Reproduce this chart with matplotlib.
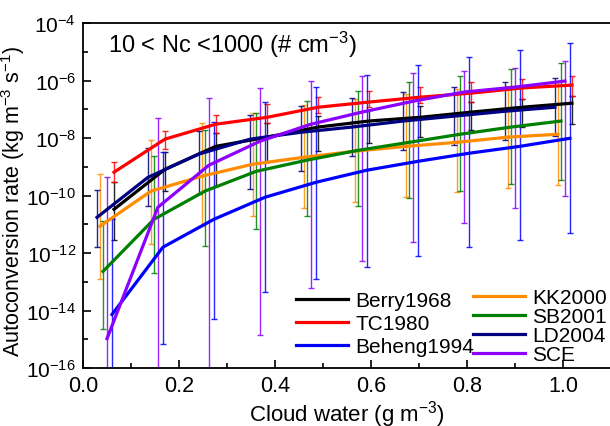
import numpy as np
import matplotlib
matplotlib.use("Agg")
import matplotlib.pyplot as plt
from matplotlib.ticker import FixedLocator, FuncFormatter

plt.rcParams['font.family'] = ['Liberation Sans', 'DejaVu Sans']
plt.rcParams['mathtext.fontset'] = 'custom'
plt.rcParams['mathtext.rm'] = 'Liberation Sans'
plt.rcParams['mathtext.it'] = 'Liberation Sans:italic'
plt.rcParams['mathtext.default'] = 'regular'

# cloud water bin centres (g m-3)
cw = [0.05, 0.156, 0.262, 0.369, 0.475, 0.581, 0.688, 0.794, 0.90, 1.004]

# log10 of autoconversion rate: centre, upper end, lower end of error bar
# (-20 = lower end falls below the plotted range)
berry = [-10.48, -9.09, -8.29, -7.97, -7.62, -7.41, -7.28, -7.10, -6.93, -6.79]
berry_hi = [-9.54, -8.49, -7.83, -7.48, -7.24, -7.03, -6.89, -6.75, -6.65, -6.54]
berry_lo = [-11.56, -9.85, -9.68, -8.84, -8.46, -8.18, -7.97, -7.73, -7.62, -7.52]

tc = [-9.19, -8.04, -7.52, -7.28, -6.93, -6.75, -6.58, -6.44, -6.26, -6.16]
tc_hi = [-8.84, -7.76, -7.21, -6.82, -6.58, -6.37, -6.23, -6.06, -5.95, -5.85]
tc_lo = [-9.54, -8.39, -7.83, -7.48, -7.14, -6.93, -6.79, -6.75, -6.65, -6.54]

beheng = [-14.14, -11.80, -10.83, -10.06, -9.54, -9.12, -8.81, -8.53, -8.29, -8.01]
beheng_hi = [-10.83, -8.49, -7.45, -6.75, -6.23, -5.81, -5.46, -5.18, -4.94, -4.70]
beheng_lo = [-20, -15.15, -14.31, -13.37, -12.89, -12.47, -12.12, -11.80, -11.56, -11.32]

kk = [-11.07, -9.85, -9.33, -8.91, -8.67, -8.46, -8.29, -8.15, -7.97, -7.87]
kk_hi = [-9.26, -8.08, -7.48, -7.14, -6.86, -6.65, -6.47, -6.30, -6.20, -6.06]
kk_lo = [-12.89, -11.70, -11.07, -10.72, -10.45, -10.24, -10.06, -9.89, -9.75, -9.64]

sb = [-12.64, -10.83, -9.85, -9.16, -8.77, -8.43, -8.15, -7.87, -7.62, -7.41]
sb_hi = [-10.90, -8.63, -7.73, -7.14, -6.72, -6.37, -6.06, -5.85, -5.60, -5.39]
sb_lo = [-14.66, -12.68, -11.77, -11.18, -10.72, -10.38, -10.10, -9.85, -9.61, -9.47]

ld = [-10.76, -9.37, -8.56, -8.04, -7.80, -7.62, -7.41, -7.24, -7.07, -6.93]
ld_hi = [-9.82, -8.36, -7.76, -7.21, -6.89, -6.61, -6.40, -6.23, -6.06, -5.92]
ld_lo = [-11.80, -10.38, -9.96, -9.78, -9.16, -8.63, -8.43, -8.25, -8.08, -7.94]

sce = [-14.98, -10.41, -8.95, -8.11, -7.52, -7.10, -6.72, -6.40, -6.23, -6.02]
sce_hi = [-9.37, -7.31, -6.61, -6.26, -6.02, -5.85, -5.74, -5.67, -5.57, -5.32]
sce_lo = [-20, -20, -20, -14.84, -13.23, -12.29, -11.60, -10.97, -10.45, -10.03]

# name, data, colour, sideways shift of the error bars
series = [
    ("Berry1968", berry, berry_hi, berry_lo, "black", 0.0146),
    ("TC1980", tc, tc_hi, tc_lo, "#ff0000", 0.0146),
    ("Beheng1994", beheng, beheng_hi, beheng_lo, "#0000ff", 0.0104),
    ("KK2000", kk, kk_hi, kk_lo, "#ff8c00", -0.0146),
    ("SB2001", sb, sb_hi, sb_lo, "#008000", -0.0083),
    ("LD2004", ld, ld_hi, ld_lo, "#000080", -0.0208),
    ("SCE", sce, sce_hi, sce_lo, "#8b00ff", 0.0),
]

fig = plt.figure(figsize=(6.1, 4.27), dpi=100)
# right edge of the axes sits just past the image border, as in the source figure
ax = fig.add_axes([83 / 610, 58 / 427, 528 / 610, 345 / 427])

handles = {}
for name, c, hi, lo, col, dx in series:
    x = np.array(cw) + dx
    yc = 10.0 ** np.array(c)
    yh = 10.0 ** np.array(hi)
    yl = 10.0 ** np.array(lo)
    ax.errorbar(x, yc, yerr=[yc - yl, yh - yc], fmt='none', ecolor=col,
                elinewidth=1.0, capsize=2, capthick=1.0, alpha=0.85, zorder=2)
for name, c, hi, lo, col, dx in series:
    x = np.array(cw) + dx
    handles[name], = ax.plot(x, 10.0 ** np.array(c), color=col, lw=2.3, zorder=3,
                             label=name)

ax.set_yscale('log')
ax.set_xlim(0, 1.1)
ax.set_ylim(1e-16, 1e-4)
ax.yaxis.set_major_locator(FixedLocator(10.0 ** np.arange(-16, -3, 2)))
ax.yaxis.set_minor_locator(FixedLocator(10.0 ** np.arange(-15, -4, 2)))
ax.yaxis.set_major_formatter(FuncFormatter(lambda v, p: r'$10^{%d}$' % round(np.log10(v))))
ax.yaxis.set_minor_formatter(FuncFormatter(lambda v, p: ''))
ax.set_xticks([0.0, 0.2, 0.4, 0.6, 0.8, 1.0])
ax.set_xticks([0.1, 0.3, 0.5, 0.7, 0.9], minor=True)
ax.xaxis.set_major_formatter(FuncFormatter(lambda v, p: '%.1f' % v))

ax.tick_params(which='both', direction='in', width=1.2)
ax.tick_params(which='major', length=6)
ax.tick_params(which='minor', length=3.5)
ax.tick_params(axis='x', labelsize=15.5, pad=5)
ax.tick_params(axis='y', labelsize=15, pad=5)
for s in ax.spines.values():
    s.set_linewidth(1.3)
ax.spines['right'].set_visible(False)

ax.set_xlabel(r'Cloud water (g m$^{-3}$)', fontsize=16)
ax.xaxis.set_label_coords(0.5, -0.086)
ax.set_ylabel(r'Autoconversion rate (kg m$^{-3}$ s$^{-1}$)', fontsize=15.5)
ax.yaxis.set_label_coords(-0.107, 0.485)

ax.text(108 / 610, 1 - 45 / 427, r'10 < Nc <1000 (# cm$^{-3}$)', transform=fig.transFigure,
        fontsize=17, va='center', ha='left')

names1 = ["Berry1968", "TC1980", "Beheng1994"]
names2 = ["KK2000", "SB2001", "LD2004", "SCE"]
leg1 = ax.legend([handles[n] for n in names1], names1, loc='upper left',
                 bbox_to_anchor=(296 / 610, 1 - 292 / 427), bbox_transform=fig.transFigure,
                 frameon=False, fontsize=15, handlelength=2.5, handletextpad=0.35,
                 labelspacing=0.2, borderpad=0, borderaxespad=0)
ax.add_artist(leg1)
ax.legend([handles[n] for n in names2], names2, loc='upper left',
          bbox_to_anchor=(473 / 610, 1 - 289 / 427), bbox_transform=fig.transFigure,
          frameon=False, fontsize=15, handlelength=2.5, handletextpad=0.35,
          labelspacing=0.0, borderpad=0, borderaxespad=0)

fig.savefig("out.png", dpi=100)
